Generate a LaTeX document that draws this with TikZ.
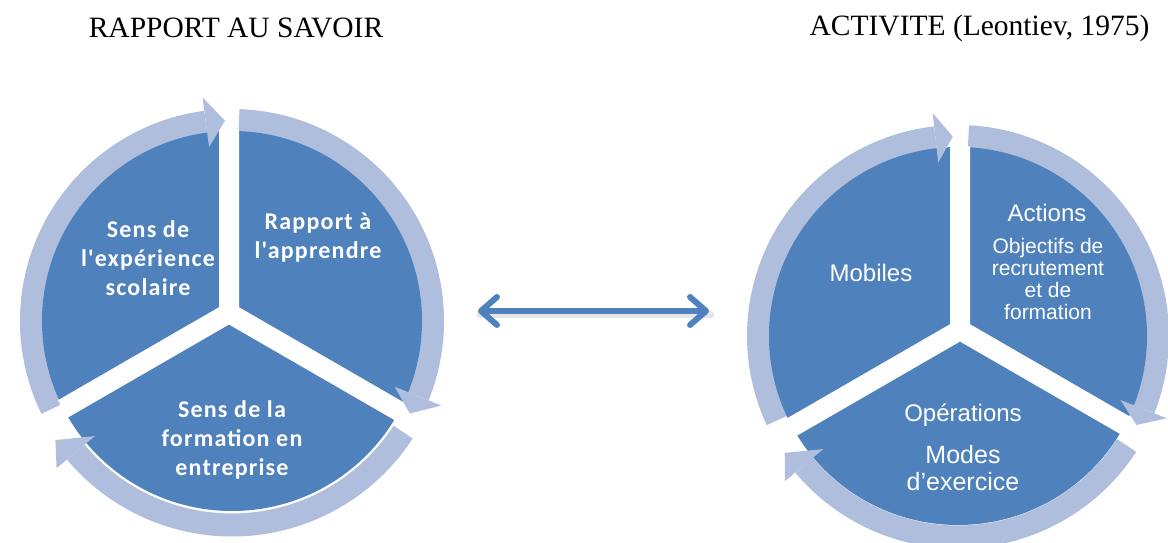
\documentclass[tikz,border=0pt]{standalone}
\usepackage{fontspec}
\usetikzlibrary{arrows.meta}
\newfontfamily\calfont{Carlito}[LetterSpace=5]
\newfontfamily\arialf{Liberation Sans}
\newfontfamily\timesf{Liberation Serif}
\definecolor{pieblue}{RGB}{79,129,189}
\definecolor{ringc}{RGB}{174,190,220}
\tikzset{
  ringarc/.style={draw=ringc, line width=23pt},
  ringhead/.style={fill=ringc},
  pie/.style={fill=pieblue},
  sepline/.style={draw=white, line width=20pt},
  lefttxt/.style={text=white, align=center, font=\calfont\bfseries\fontsize{24}{29}\selectfont},
  righttxt/.style={text=white, align=center, font=\arialf\fontsize{24}{28}\selectfont},
  smalltxt/.style={text=white, align=center, font=\arialf\fontsize{21}{21.7}\selectfont},
  titletxt/.style={font=\timesf\fontsize{29.5}{32}\selectfont},
  linkarrow/.style={draw=pieblue, line width=6pt, line cap=round,
    {Straight Barb[length=16pt,width=28pt,line join=round,line cap=round]}-{Straight Barb[length=16pt,width=28pt,line join=round,line cap=round]}},
  linkshadow/.style={draw=black!20, line width=7pt, line cap=round, opacity=0.5}
}
\begin{document}
\begin{tikzpicture}[x=1pt,y=1pt]
\useasboundingbox (0,0) rectangle (1168,543);

% ---------------- left wheel ----------------
\coordinate (C1) at (232,222);
\coordinate (J1) at (229,230);
\draw[ringarc] ([shift={(206:200.5)}]C1) arc[start angle=206,end angle=97.5,radius=200.5];
\draw[ringarc] ([shift={(88:200.5)}]C1) arc[start angle=88,end angle=-22,radius=200.5];
\draw[ringarc] ([shift={(-33:204)}]C1) arc[start angle=-33,end angle=-140,radius=204];
\fill[pie] (C1) circle[radius=190];
\begin{scope}
  \clip (C1) circle[radius=191];
  \draw[sepline] (J1) -- ++(90:260) (J1) -- ++(-30:260) (J1) -- ++(210:260);
\end{scope}
\fill[ringhead] ([shift={(97.5:225.5)}]C1) -- ([shift={(92:200.5)}]C1) -- ([shift={(97.5:175.5)}]C1) -- cycle;
\fill[ringhead] ([shift={(-22:225.5)}]C1) -- ([shift={(-27.5:200.5)}]C1) -- ([shift={(-22:175.5)}]C1) -- cycle;
\fill[ringhead] ([shift={(-140:229)}]C1) -- ([shift={(-146:213)}]C1) -- ([shift={(-140:179)}]C1) -- cycle;

\node[lefttxt] (l1) at (148,285) {Sens de\\l'expérience\\scolaire};
\node[lefttxt] (l2) at (318,305) {Rapport à\\l'apprendre};
\node[lefttxt] (l3) at (232,103) {Sens de la\\formation en\\entreprise};

% ---------------- right wheel ----------------
\coordinate (C2) at (958,207);
\coordinate (J2) at (960,213);
\draw[ringarc] ([shift={(205:199.5)}]C2) arc[start angle=205,end angle=96.5,radius=199.5];
\draw[ringarc] ([shift={(87:199.5)}]C2) arc[start angle=87,end angle=-21.5,radius=199.5];
\draw[ringarc] ([shift={(-33:201)}]C2) arc[start angle=-33,end angle=-140,radius=201];
\fill[pie] (C2) circle[radius=189];
\begin{scope}
  \clip (C2) circle[radius=190];
  \draw[sepline] (J2) -- ++(90:260) (J2) -- ++(-30:260) (J2) -- ++(210:260);
\end{scope}
\fill[ringhead] ([shift={(96.5:224.5)}]C2) -- ([shift={(91.5:199.5)}]C2) -- ([shift={(96.5:174.5)}]C2) -- cycle;
\fill[ringhead] ([shift={(-21.5:224.5)}]C2) -- ([shift={(-26.5:199.5)}]C2) -- ([shift={(-21.5:174.5)}]C2) -- cycle;
\fill[ringhead] ([shift={(-140:226)}]C2) -- ([shift={(-146:209)}]C2) -- ([shift={(-140:176)}]C2) -- cycle;

\node[righttxt] (r1) at (871,270) {Mobiles};
\node[righttxt] (r2) at (1047,330) {Actions};
\node[smalltxt] (r2b) at (1048,264) {Objectifs de\\recrutement\\et de\\formation};
\node[righttxt] (r3) at (963,128) {Opérations};
\node[righttxt, font=\arialf\fontsize{25}{27}\selectfont] (r3b) at (963,75) {Modes\\d’exercice};

% ---------------- titles ----------------
\node[titletxt] (t1) at (236,515) {RAPPORT AU SAVOIR};
\node[titletxt] (t2) at (979.5,515) {ACTIVITE (Leontiev, 1975)};

% ---------------- link arrow ----------------
\coordinate (aL) at (478,232);
\coordinate (aR) at (709,232);
\draw[linkshadow] ([shift={(2,-4)}]aL) -- ([shift={(2,-4)}]aR);
\draw[linkarrow] (aL) -- (aR);
\end{tikzpicture}
\end{document}
